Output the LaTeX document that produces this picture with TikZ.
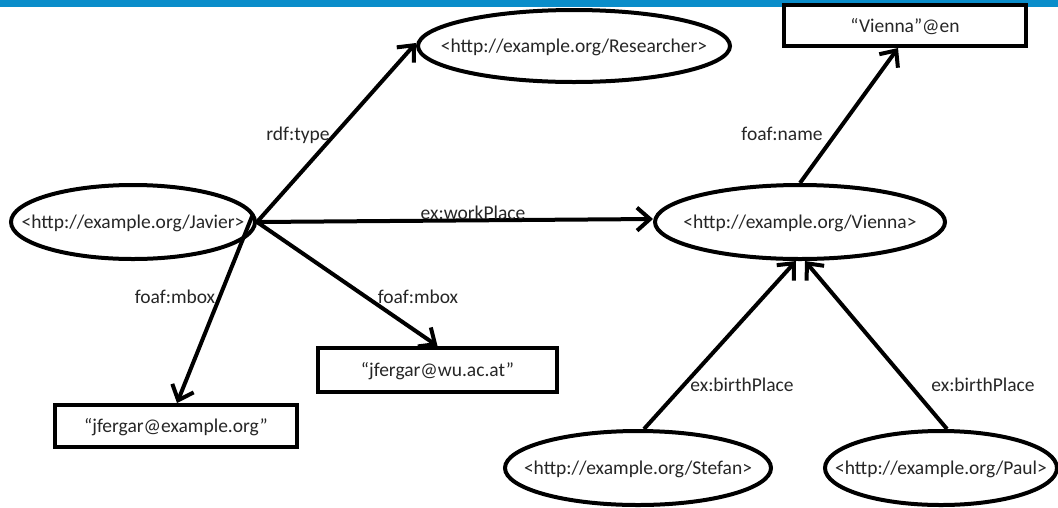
\documentclass[tikz,border=0pt]{standalone}
\usepackage{fontspec}
\setmainfont{Carlito}
\usetikzlibrary{shapes.geometric,arrows.meta,calc}
\definecolor{barblue}{RGB}{10,141,202}
\definecolor{txt}{RGB}{38,38,38}
\newcommand{\ctext}[1]{\makebox[0pt]{\raisebox{-0.35em}{#1}}}
\begin{document}
\begin{tikzpicture}[x=1pt,y=-1pt,
  every node/.style={font=\fontsize{19.5}{22}\selectfont, text=txt},
  res/.style={ellipse, draw=black, line width=4pt, fill=white, inner sep=0pt, text height=0pt, text depth=0pt},
  lit/.style={rectangle, draw=black, line width=4pt, fill=white, inner sep=0pt, text height=0pt, text depth=0pt},
  rel/.style={line width=4pt, -{Straight Barb[length=13pt,width=23pt,line width=4pt]}},
  lbl/.style={inner sep=1pt}]
\useasboundingbox (0,0) rectangle (1058,507);
\fill[barblue] (0,0) rectangle (1058,7);

% resources
\node[res, minimum width=244, minimum height=74] (jav) at (133,222) {\ctext{<http://example.org/Javier>}};
\node[res, minimum width=312, minimum height=72] (rsr) at (574,46) {\ctext{<http://example.org/Researcher>}};
\node[res, minimum width=290, minimum height=74] (vie) at (800,222) {\ctext{<http://example.org/Vienna>}};
\node[res, minimum width=266, minimum height=74] (ste) at (638,468) {\ctext{<http://example.org/Stefan>}};
\node[res, minimum width=232, minimum height=74] (pau) at (941,468) {\ctext{<http://example.org/Paul>}};

% literals
\node[lit, minimum width=242, minimum height=41] (ven) at (905,25.5) {\ctext{“Vienna”@en}};
\node[lit, minimum width=242, minimum height=42] (exo) at (176,426) {\ctext{“jfergar@example.org”}};
\node[lit, minimum width=239, minimum height=44] (wua) at (437.5,370) {\ctext{“jfergar@wu.ac.at”}};

% properties
\draw[rel] (jav.east) -- ([yshift=3pt]rsr.west);
\draw[rel] (jav.east) -- ([yshift=3pt]vie.west);
\draw[rel] (jav.east) -- (wua.north);
\draw[rel] ([shift={(-4pt,8pt)}]jav.east) -- ([xshift=1pt]exo.north);
\draw[rel] (vie.north) -- ([xshift=-7pt]ven.south);
\draw[rel] ([xshift=6pt]ste.north) -- ([xshift=-4pt]vie.south);
\draw[rel] ([xshift=6pt]pau.north) -- ([xshift=5pt]vie.south);

% property labels
\node[lbl] (l1) at (298,135) {rdf:type};
\node[lbl] (l2) at (473,213) {ex:workPlace};
\node[lbl] (l3) at (175,297) {foaf:mbox};
\node[lbl] (l4) at (418,297) {foaf:mbox};
\node[lbl] (l5) at (782,134) {foaf:name};
\node[lbl] (l6) at (742,385) {ex:birthPlace};
\node[lbl] (l7) at (983,385) {ex:birthPlace};
\end{tikzpicture}
\end{document}
